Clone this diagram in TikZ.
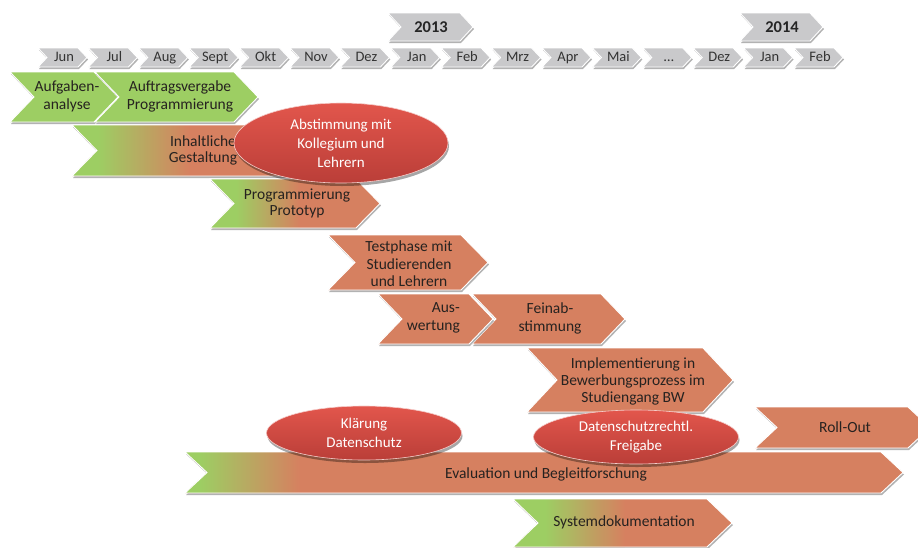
\documentclass[tikz,border=0pt]{standalone}
\usepackage{fontspec}
\setmainfont{Carlito}
\usetikzlibrary{shapes.geometric,shadows}
\definecolor{grn}{RGB}{157,206,99}
\definecolor{org}{RGB}{214,128,96}
\definecolor{gry}{RGB}{201,201,203}
\definecolor{redtop}{RGB}{226,86,76}
\definecolor{redbot}{RGB}{186,62,56}
\definecolor{txt}{RGB}{38,34,32}
% chevron path: L R T B d
\newcommand\chevpath[5]{(#1,#3) -- ({#2-#5},#3) -- (#2,{(#3+#4)/2}) -- ({#2-#5},#4) -- (#1,#4) -- ({#1+#5},{(#3+#4)/2}) -- cycle}
\tikzset{
  shad/.style={drop shadow={shadow xshift=1pt,shadow yshift=-2pt,opacity=0.3,fill=black}},
  rim/.style={draw=white,line width=0.9pt},
  lbl/.style={text=txt,align=center,inner sep=0pt,font=\fontsize{15.5}{18}\selectfont},
  mlbl/.style={text=black!80,inner sep=0pt,text height=10pt,text depth=3pt,font=\fontsize{14.5}{16}\selectfont},
  ylbl/.style={text=black!85,inner sep=0pt,font=\fontsize{16.5}{18}\selectfont\bfseries},
  bubble/.style={ellipse,top color=redtop,bottom color=redbot,draw=white!70!redtop,line width=0.6pt,
     text=white,align=center,inner sep=0pt,font=\fontsize{15}{19}\selectfont,
     drop shadow={shadow xshift=1pt,shadow yshift=-3pt,opacity=0.35,fill=black}}
}
% solid chevron: colour L R T B d
\newcommand\solidchev[6]{\fill[#1,shad] \chevpath{#2}{#3}{#4}{#5}{#6}; \draw[rim] \chevpath{#2}{#3}{#4}{#5}{#6};}
% gradient chevron: L R T B d x1 x2
\newcommand\gradchev[7]{%
  \fill[org,shad] \chevpath{#1}{#2}{#3}{#4}{#5};
  \begin{scope}
    \clip \chevpath{#1}{#2}{#3}{#4}{#5};
    \fill[grn] (#1,#3) rectangle (#6,#4);
    \shade[left color=grn,right color=org] (#6,#3) rectangle (#7,#4);
  \end{scope}
  \draw[rim] \chevpath{#1}{#2}{#3}{#4}{#5};}
\begin{document}
\begin{tikzpicture}[x=1pt,y=-1pt]
\useasboundingbox (0,0) rectangle (918,547);
\fill[white] (0,0) rectangle (918,547);
% years
\solidchev{gry}{388}{473}{13}{41}{13}
\node[ylbl] (y2013) at (431,27) {2013};
\solidchev{gry}{740}{823}{13}{41}{13}
\node[ylbl] (y2014) at (782,27) {2014};
% months
\foreach \m [count=\i from 0] in {Jun,Jul,Aug,Sept,Okt,Nov,Dez,Jan,Feb,Mrz,Apr,Mai,…,Dez,Jan,Feb}{
  \pgfmathsetmacro\L{38+50.4*\i}
  \solidchev{gry}{\L}{\L+49}{48}{67}{9}
  \node[mlbl] (m\i) at (\L+26,57.5) {\m};
}
% tasks
\solidchev{grn}{10}{118}{72}{122}{24}
\node[lbl] (aufg) at (67,96) {Aufgaben-\\analyse};
\solidchev{grn}{95}{258}{72}{122}{24}
\node[lbl] (auftr) at (180,96) {Auftragsvergabe\\Programmierung};
\gradchev{72}{340}{125}{176}{25}{98}{190}
\node[lbl,font=\fontsize{15.5}{16}\selectfont] (inh) at (203,150) {Inhaltliche\\Gestaltung};
\gradchev{210}{380}{179}{228}{24}{236}{300}
\node[lbl,font=\fontsize{15.5}{16}\selectfont] (proto) at (297,203) {Programmierung\\Prototyp};
\node[bubble,minimum width=214,minimum height=80] (abst) at (341,143) {Abstimmung mit\\Kollegium und\\Lehrern};
\solidchev{org}{328}{488}{235}{290}{27}
\node[lbl,font=\fontsize{15.5}{17.5}\selectfont] (test) at (409,264) {Testphase mit\\Studierenden\\und Lehrern};
\solidchev{org}{472}{625}{294}{344}{24}
\node[lbl] (fein) at (550,318) {Feinab-\\stimmung};
\solidchev{org}{378}{493}{294}{344}{24}
\node[lbl,align=right,anchor=east] (ausw) at (460,318) {Aus-\\wertung};
\solidchev{org}{527}{733}{348}{412}{30}
\node[lbl,font=\fontsize{15.5}{17}\selectfont] (impl) at (633,381) {Implementierung in\\Bewerbungsprozess im\\Studiengang BW};
\solidchev{org}{755}{930}{407}{448}{22}
\node[lbl] (roll) at (845,427) {Roll-Out};
\gradchev{185}{903}{452}{493}{22}{200}{300}
\node[lbl] (eval) at (546,474) {Evaluation und Begleitforschung};
\gradchev{513}{732}{499}{547}{25}{545}{625}
\node[lbl] (sysd) at (624,522) {Systemdokumentation};
\node[bubble,minimum width=195,minimum height=54] (klaer) at (364,433) {Klärung\\Datenschutz};
\node[bubble,minimum width=205,minimum height=54] (frei) at (636,437) {Datenschutzrechtl.\\Freigabe};
\end{tikzpicture}
\end{document}
